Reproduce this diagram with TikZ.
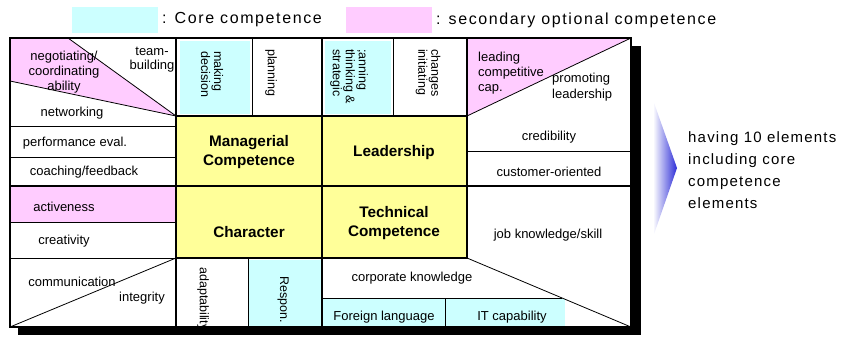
\documentclass[tikz,border=0pt]{standalone}
\usepackage{fontspec}
\setmainfont{Liberation Sans}
\usepackage{tikz}
\usetikzlibrary{positioning}
\definecolor{corecyan}{RGB}{204,255,255}
\definecolor{optpink}{RGB}{255,204,255}
\definecolor{blockyellow}{RGB}{255,255,153}
\definecolor{arrowblue}{RGB}{45,45,215}
\tikzset{celltext/.style={font=\fontsize{13}{15}\selectfont, align=center, inner sep=0pt}}
\tikzset{vtext/.style={font=\fontsize{12.5}{13}\selectfont, align=left, inner sep=0pt, rotate=-90, anchor=west}}
\tikzset{blocktext/.style={font=\fontsize{15.3}{19}\selectfont\bfseries, align=center, inner sep=0pt}}
\tikzset{legendtext/.style={font=\fontsize{16}{19}\selectfont\addfontfeature{LetterSpace=10}, inner sep=0pt, anchor=west}}
\tikzset{gridline/.style={line width=0.8pt}}
\tikzset{boldline/.style={line width=2.4pt}}

\begin{document}
\begin{tikzpicture}[x=1pt, y=-1pt]
  \useasboundingbox (0,0) rectangle (848,340);

  % legend
  \fill[corecyan] (72,7) rectangle (158,33);
  \node[legendtext] (core) at (162,20) {: Core competence};
  \fill[optpink] (346,7) rectangle (432,33);
  \node[legendtext] (second) at (436,20) {: secondary optional competence};

  % shadow and table
  \fill[black] (18,46) rectangle (641,335);
  \fill[white] (10,38) rectangle (631,327);

  \coordinate (tl) at (10,38);
  \coordinate (br) at (631,327);
  \coordinate (mgr) at (176,116);
  \coordinate (chr) at (176,258);
  \coordinate (ldr) at (467,116);
  \coordinate (tec) at (467,258);

  \fill[optpink] (tl) -- (68,38) -- (mgr) -- (10,81) -- cycle;
  \fill[optpink] (ldr) -- (467,38) -- (631,38) -- cycle;
  \fill[optpink] (10,186) rectangle (176,222);
  \fill[corecyan] (180,41) rectangle (250,114);
  \fill[corecyan] (325,41) rectangle (391,114);
  \fill[corecyan] (249,260) rectangle (321,327);
  \fill[corecyan] (323,299) rectangle (565,327);
  \fill[blockyellow] (mgr) rectangle (tec);

  % thin cell borders
  \draw[gridline] (10,126) -- (176,126);
  \draw[gridline] (10,157) -- (176,157);
  \draw[gridline] (10,222) -- (176,222);
  \draw[gridline] (10,258) -- (chr);
  \draw[gridline] (68,38) -- (mgr);
  \draw[gridline] (10,81) -- (mgr);
  \draw[gridline] (10,327) -- (chr);
  \draw[gridline] (252,38) -- (252,116);
  \draw[gridline] (393,38) -- (393,116);
  \draw[gridline] (ldr) -- (631,38);
  \draw[gridline] (467,151) -- (631,151);
  \draw[gridline] (248,258) -- (248,327);
  \draw[gridline] (322,298) -- (562,298);
  \draw[gridline] (445,298) -- (445,327);
  \draw[gridline] (tec) -- (br);

  % main borders
  \draw[line width=1.6pt] (176,38) -- (176,327);
  \draw[line width=1.6pt] (467,38) -- (tec);
  \draw[boldline] (322,38) -- (322,327);
  \draw[boldline] (10,186) -- (631,186);
  \draw[boldline] (mgr) rectangle (tec);
  \draw[line width=1.2pt] (tl) rectangle (br);

  % left column
  \node[celltext] (negot) at (64,72) {negotiating/\\coordinating\\ability};
  \node[celltext, font=\fontsize{13}{14}\selectfont] (team) at (152,60) {team-\\building};
  \node[celltext] (netw) at (72,113) {networking};
  \node[celltext] (perf) at (75,143) {performance eval.};
  \node[celltext] (coach) at (84,172) {coaching/feedback};
  \node[celltext] (activ) at (64,207) {activeness};
  \node[celltext] (creat) at (64,241) {creativity};
  \node[celltext] (comm) at (72,282) {communication};
  \node[celltext] (integ) at (142,298) {integrity};

  % top row
  \node[vtext] (makdec) at (212,51) {making\\decision};
  \node[vtext] (plan) at (271,49) {planning};
  \node[vtext] (strat) at (349,49) {;anning\\thinking \&\\strategic};
  \node[vtext] (chg) at (428,49) {changes\\initiating};
  \node[celltext, align=left, anchor=west] (leadcap) at (478,73) {leading\\competitive\\cap.};
  \node[celltext, align=left, anchor=west, font=\fontsize{13}{16}\selectfont] (promo) at (552,87) {promoting\\leadership};

  % centre block
  \node[blocktext] (manag) at (249,152) {Managerial\\Competence};
  \node[blocktext] (leader) at (394,153) {Leadership};
  \node[blocktext] (charac) at (249,232) {Character};
  \node[blocktext] (techn) at (394,223) {Technical\\Competence};

  % right column
  \node[celltext] (cred) at (549,137) {credibility};
  \node[celltext] (cust) at (549,172) {customer-oriented};
  \node[celltext] (job) at (548,235) {job knowledge/skill};

  % bottom row
  \node[vtext] (adapt) at (203,267) {adaptability};
  \node[vtext] (respon) at (283,276) {Respon.};
  \node[celltext] (corp) at (412,278) {corporate knowledge};
  \node[celltext] (foreign) at (384,317) {Foreign language};
  \node[celltext] (itcap) at (512,317) {IT capability};

  % pointer and note
  \shade[left color=white, right color=arrowblue] (653,100) -- (677,168) -- (653,237) -- cycle;
  \node[font=\fontsize{15}{22}\selectfont\addfontfeature{LetterSpace=8}, align=left, anchor=west, inner sep=0pt] (note) at (688,170)
    {having 10 elements\\including core\\competence\\elements};
\end{tikzpicture}
\end{document}
